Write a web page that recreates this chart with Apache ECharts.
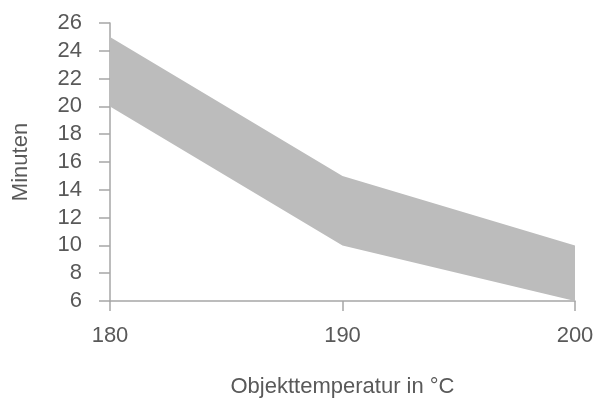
<!DOCTYPE html>
<html>
<head>
<meta charset="utf-8">
<script src="https://cdn.jsdelivr.net/npm/echarts@6/dist/echarts.min.js"></script>
<style>
html,body{margin:0;padding:0;background:#fff;}
#chart{width:597px;height:403px;}
</style>
</head>
<body>
<div id="chart"></div>
<script>
const temperatures = [180, 190, 200];
const minMinutes = [20, 10, 6];
const maxMinutes = [25, 15, 10];
const yTicks = [6, 8, 10, 12, 14, 16, 18, 20, 22, 24, 26];

const chart = echarts.init(document.getElementById('chart'), null, {renderer: 'canvas'});
const font = 'Liberation Sans, Arial, sans-serif';
const axisColor = '#a6a6a6';
const textColor = '#595959';

const bandData = temperatures.map((t, i) => [t, minMinutes[i], maxMinutes[i]]);

chart.setOption({
  animation: false,
  grid: {left: 110, right: 22, top: 23, bottom: 97, containLabel: false},
  xAxis: {
    type: 'value',
    min: 180, max: 200, interval: 10,
    name: 'Objekttemperatur in °C',
    nameLocation: 'middle',
    nameGap: 75,
    nameTextStyle: {color: textColor, fontSize: 22, fontFamily: font},
    axisLine: {show: true, lineStyle: {color: axisColor, width: 1.5}},
    axisTick: {show: true, length: 10, inside: false, lineStyle: {color: axisColor, width: 1.5}},
    axisLabel: {color: textColor, fontSize: 22, fontFamily: font, margin: 24},
    splitLine: {show: false}
  },
  yAxis: {
    type: 'value',
    min: yTicks[0], max: yTicks[yTicks.length - 1], interval: 2,
    name: 'Minuten',
    nameLocation: 'middle',
    nameGap: 78,
    nameRotate: 90,
    nameTextStyle: {color: textColor, fontSize: 22, fontFamily: font},
    axisLine: {show: true, lineStyle: {color: axisColor, width: 1.5}},
    axisTick: {show: true, length: 11, lineStyle: {color: axisColor, width: 1.5}},
    axisLabel: {color: textColor, fontSize: 22, fontFamily: font, margin: 28},
    splitLine: {show: false}
  },
  series: [
    {
      type: 'custom',
      data: bandData,
      encode: {x: 0, y: [1, 2]},
      silent: true,
      renderItem: function (params, api) {
        if (params.dataIndex !== 0) return null;
        const pts = [];
        for (let i = 0; i < temperatures.length; i++) {
          pts.push(api.coord([temperatures[i], maxMinutes[i]]));
        }
        for (let i = temperatures.length - 1; i >= 0; i--) {
          pts.push(api.coord([temperatures[i], minMinutes[i]]));
        }
        return {
          type: 'polygon',
          shape: {points: pts},
          style: {fill: '#bcbcbc', stroke: null}
        };
      }
    }
  ]
});
</script>
</body>
</html>
